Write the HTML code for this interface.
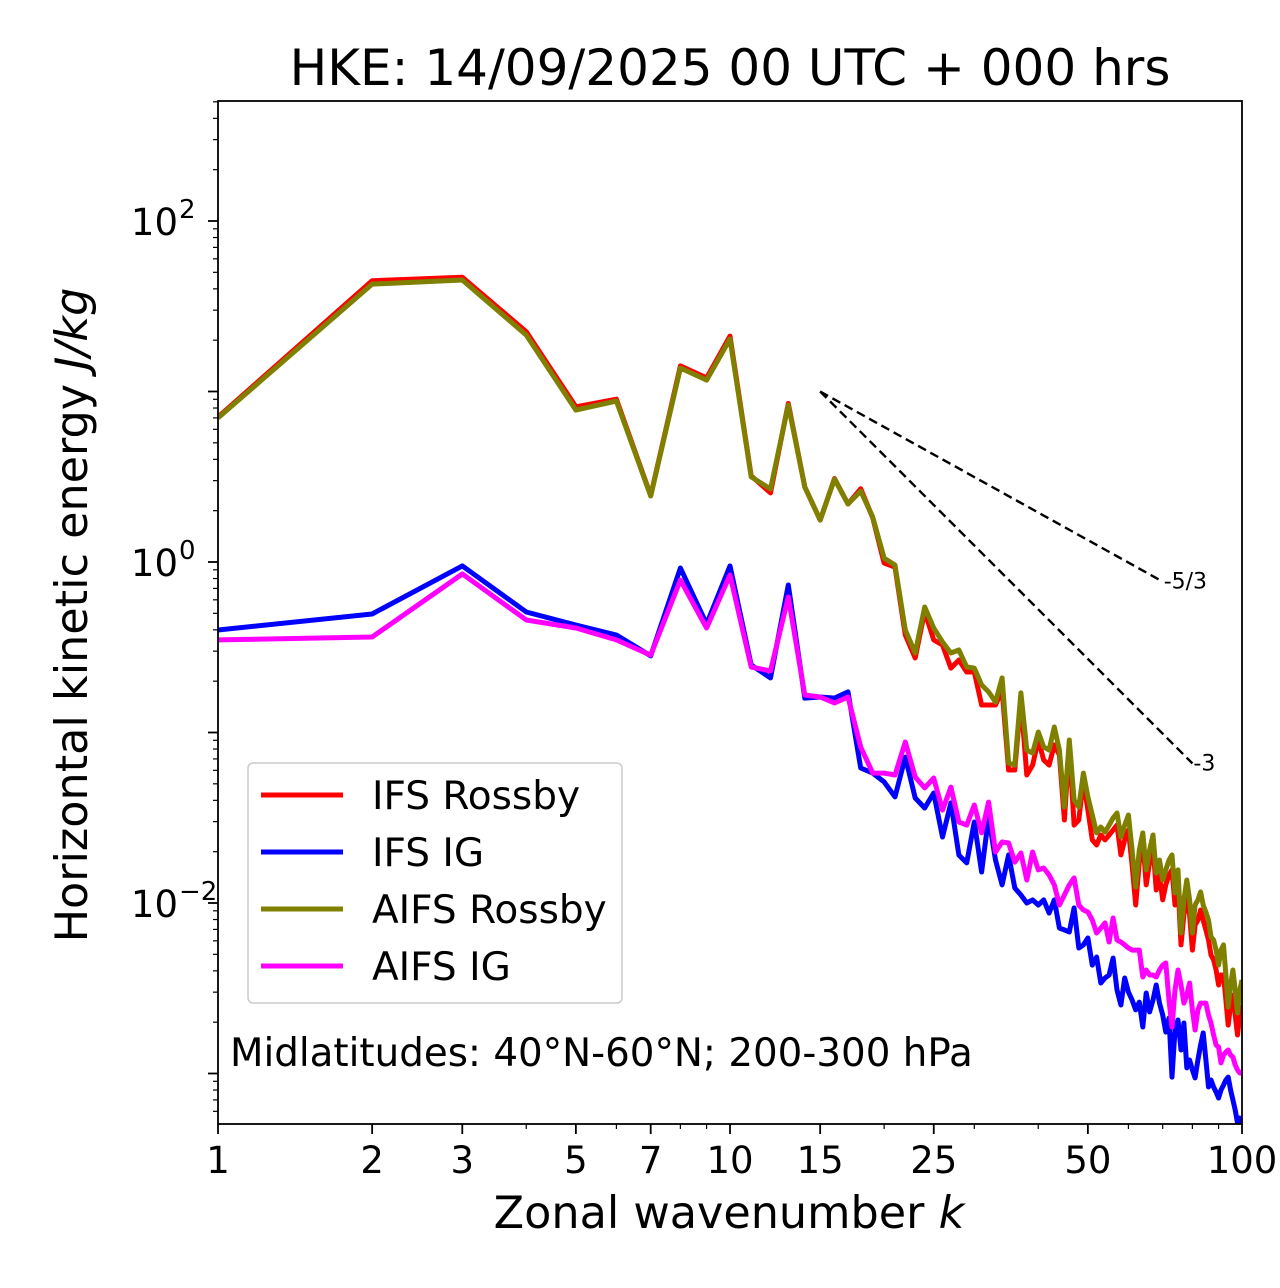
<!DOCTYPE html>
<html><head><meta charset="utf-8"><style>
html,body{margin:0;padding:0;background:#fff;}
svg{display:block;font-family:"DejaVu Sans","Liberation Sans",sans-serif;}
</style></head><body>
<svg id="chart" width="1280" height="1288" viewBox="0 0 1280 1288" xmlns="http://www.w3.org/2000/svg">
<rect width="1280" height="1288" fill="#fff"/>
<text x="730" y="85" font-size="50" text-anchor="middle">HKE: 14/09/2025 00 UTC + 000 hrs</text>
<g id="plot"></g>
<text x="729" y="1228" font-size="44.5" text-anchor="middle">Zonal wavenumber <tspan font-style="italic">k</tspan></text>
<text transform="translate(87,615) rotate(-90)" font-size="44.5" text-anchor="middle">Horizontal kinetic energy <tspan font-style="italic">J/kg</tspan></text>
</svg>
<script>
// log10 of energy (J/kg) for wavenumbers k = 1..100
const wavenumbers = Array.from({length:100},(_,i)=>i+1);
const ifsRossbyLogE = [0.85,1.65,1.67,1.35,0.91,0.955,0.39,1.15,1.08,1.325,0.505,0.405,0.93,0.44,0.246,0.49,0.34,0.43,0.26,-0.006,-0.03,-0.428,-0.563,-0.29,-0.457,-0.487,-0.622,-0.575,-0.645,-0.645,-0.839,-0.839,-0.839,-0.751,-1.22,-1.22,-0.809,-1.249,-1.191,-1.044,-1.161,-1.191,-1.073,-1.132,-1.513,-1.073,-1.543,-1.513,-1.279,-1.455,-1.63,-1.66,-1.601,-1.63,-1.601,-1.572,-1.543,-1.718,-1.63,-1.572,-1.777,-2.012,-1.76,-1.63,-1.894,-1.76,-1.66,-1.924,-1.836,-1.982,-1.894,-1.836,-1.806,-2.012,-1.894,-2.246,-2.07,-1.953,-2.07,-2.276,-2.129,-2.1,-2.041,-2.1,-2.158,-2.217,-2.305,-2.334,-2.393,-2.481,-2.422,-2.422,-2.569,-2.716,-2.598,-2.54,-2.657,-2.774,-2.657,-2.598];
const ifsIgLogE = [-0.399,-0.305,-0.023,-0.293,-0.37,-0.428,-0.551,-0.035,-0.364,-0.023,-0.604,-0.68,-0.135,-0.798,-0.792,-0.798,-0.762,-1.208,-1.238,-1.29,-1.378,-1.144,-1.384,-1.443,-1.355,-1.613,-1.413,-1.719,-1.765,-1.525,-1.818,-1.496,-1.748,-1.894,-1.718,-1.912,-1.953,-2.0,-1.982,-2.012,-1.982,-2.059,-1.982,-2.147,-2.158,-2.17,-2.029,-2.264,-2.246,-2.205,-2.364,-2.317,-2.469,-2.44,-2.422,-2.323,-2.51,-2.598,-2.44,-2.522,-2.569,-2.627,-2.581,-2.727,-2.528,-2.639,-2.569,-2.481,-2.587,-2.657,-2.757,-2.675,-3.021,-2.745,-2.686,-2.862,-2.704,-2.967,-2.921,-2.979,-3.026,-2.921,-2.833,-2.762,-2.921,-3.079,-3.038,-3.079,-3.109,-3.144,-3.097,-3.068,-3.038,-3.021,-3.097,-3.155,-3.214,-3.29,-3.261,-3.296];
const aifsRossbyLogE = [0.845,1.63,1.654,1.331,0.891,0.944,0.387,1.138,1.067,1.308,0.499,0.428,0.921,0.44,0.246,0.487,0.34,0.416,0.264,0.023,-0.018,-0.399,-0.534,-0.264,-0.387,-0.469,-0.534,-0.516,-0.616,-0.622,-0.721,-0.762,-0.821,-0.68,-1.179,-1.191,-0.768,-1.103,-1.12,-0.997,-1.085,-1.103,-0.968,-1.103,-1.437,-1.044,-1.396,-1.437,-1.238,-1.378,-1.484,-1.589,-1.554,-1.584,-1.543,-1.501,-1.472,-1.613,-1.543,-1.484,-1.689,-1.906,-1.689,-1.589,-1.806,-1.689,-1.601,-1.824,-1.748,-1.865,-1.806,-1.748,-1.718,-1.941,-1.806,-2.176,-1.982,-1.865,-1.982,-2.176,-2.012,-1.982,-1.935,-2.012,-2.053,-2.1,-2.199,-2.217,-2.276,-2.364,-2.276,-2.246,-2.422,-2.61,-2.481,-2.393,-2.51,-2.645,-2.51,-2.452];
const aifsIgLogE = [-0.457,-0.44,-0.07,-0.34,-0.387,-0.457,-0.546,-0.106,-0.387,-0.076,-0.616,-0.639,-0.205,-0.78,-0.792,-0.827,-0.792,-1.085,-1.238,-1.238,-1.249,-1.056,-1.261,-1.325,-1.267,-1.455,-1.32,-1.525,-1.543,-1.425,-1.589,-1.408,-1.701,-1.642,-1.648,-1.76,-1.707,-1.865,-1.701,-1.806,-1.795,-1.836,-1.894,-2.012,-1.953,-1.894,-1.853,-2.012,-2.041,-2.053,-2.1,-2.176,-2.147,-2.117,-2.229,-2.088,-2.217,-2.229,-2.246,-2.264,-2.276,-2.276,-2.276,-2.434,-2.393,-2.422,-2.422,-2.434,-2.393,-2.364,-2.352,-2.569,-2.727,-2.51,-2.393,-2.481,-2.587,-2.54,-2.469,-2.627,-2.745,-2.627,-2.587,-2.587,-2.587,-2.657,-2.704,-2.774,-2.833,-2.845,-2.938,-2.892,-2.874,-2.862,-2.892,-2.903,-2.95,-2.979,-2.997,-2.997];
const xTickValues = [1,2,3,5,7,10,15,25,50,100];
const xTickLabels = ["1","2","3","5","7","10","15","25","50","100"];
const yTickExps = [2,0,-2];
const refAnchorK = 15, refAnchorLogE = 1.0;
const refSlopes = [-5/3,-3];
const refEndK = [70,80];
const refLabels = ["-5/3","-3"];

const X0=218,X1=1242,Y0=101,Y1=1124;
const yTop = 2 + (221-101)/170.5, yBot = -2 - (1124-903)/170.5;
const xs = k => X0 + (X1-X0)*Math.log10(k)/2;
const ys = L => Y0 + (Y1-Y0)*(yTop-L)/(yTop-yBot);
const NS="http://www.w3.org/2000/svg";
const plot=document.getElementById('plot');
function mk(tag,attrs,parent){const e=document.createElementNS(NS,tag);for(const a in attrs)e.setAttribute(a,attrs[a]);(parent||plot).appendChild(e);return e;}

// ticks
const ticks=mk('g',{});


for(let d=-4;d<=3;d++){
  for(let m=1;m<10;m++){
    const L=d+Math.log10(m); if(L<yBot||L>yTop) continue;
    const y=ys(L); const len=m===1?10:5;
    mk('line',{x1:X0-len,x2:X0,y1:y,y2:y,stroke:'#000','stroke-width':m===1?1.8:1.2},ticks);
  }
}
for(let d=0;d<2;d++){
  for(let m=1;m<10;m++){
    const k=m*Math.pow(10,d); const x=xs(k);
    mk('line',{x1:x,x2:x,y1:Y1,y2:Y1+(m===1?10:5),stroke:'#000','stroke-width':m===1?1.8:1.2},ticks);
  }
}
mk('line',{x1:xs(100),x2:xs(100),y1:Y1,y2:Y1+10,stroke:'#000','stroke-width':1.8},ticks);
xTickValues.forEach((v,i)=>{
  const x=xs(v);
  if(![1,10,100].includes(v)) mk('line',{x1:x,x2:x,y1:Y1,y2:Y1+10,stroke:'#000','stroke-width':1.8},ticks);
  const t=mk('text',{x:x,y:1173,'font-size':37,'text-anchor':'middle'});
  
  
  t.textContent=xTickLabels[i];
});
yTickExps.forEach(e=>{
  const y=ys(e);
  const t=mk('text',{x:178,y:y+14,'font-size':37,'text-anchor':'end'});
  
  
  t.textContent='10';
  const s=mk('text',{x:179,y:y-3,'font-size':26,'text-anchor':'start'});
  
  
  s.textContent=e<0?('\u2212'+(-e)):String(e);
});

// reference slopes
refSlopes.forEach((s,i)=>{
  const x1=xs(refAnchorK),y1=ys(refAnchorLogE);
  const L2=refAnchorLogE+s*Math.log10(refEndK[i]/refAnchorK);
  const ln=mk('line',{x1:x1,y1:y1,x2:xs(refEndK[i]),y2:ys(L2),stroke:'#000','stroke-width':2.4,'stroke-dasharray':'9,5'});
  
  
  const t=mk('text',{x:xs(refEndK[i])+1,y:ys(L2)+7,'font-size':22});
  
  
  t.textContent=refLabels[i];
});

// series
const cp=mk('clipPath',{id:'clip'});
mk('rect',{x:X0,y:Y0,width:X1-X0,height:Y1-Y0},cp);
const series=[[ifsRossbyLogE,'#ff0000','ifs-rossby-line'],[ifsIgLogE,'#0000ff','ifs-ig-line'],[aifsRossbyLogE,'#808000','aifs-rossby-line'],[aifsIgLogE,'#ff00ff','aifs-ig-line']];
series.forEach(([arr,col,name])=>{
  const d=arr.map((v,i)=>(i?'L':'M')+xs(wavenumbers[i]).toFixed(1)+','+ys(v).toFixed(1)).join('');
  const p=mk('path',{d:d,fill:'none',stroke:col,'stroke-width':5,'stroke-linejoin':'round','clip-path':'url(#clip)'});
  
  
});

// frame
const fr=mk('rect',{x:X0,y:Y0,width:X1-X0,height:Y1-Y0,fill:'none',stroke:'#000','stroke-width':1.8});



// legend
const lg=mk('g',{});


mk('rect',{x:248,y:763,width:374,height:240,rx:5,fill:'#fff','fill-opacity':0.8,stroke:'#ccc','stroke-width':1.5},lg);
const legNames=['IFS Rossby','IFS IG','AIFS Rossby','AIFS IG'];
const legCols=['#ff0000','#0000ff','#808000','#ff00ff'];
legNames.forEach((n,i)=>{
  const y=795+i*57;
  const e=mk('g',{},lg);
  
  
  mk('line',{x1:261,x2:343,y1:y,y2:y,stroke:legCols[i],'stroke-width':5},e);
  const t=mk('text',{x:372,y:y+14,'font-size':39},e);
  t.textContent=n;
});
const an=mk('text',{x:230,y:1066,'font-size':38.8});


an.textContent='Midlatitudes: 40\u00b0N-60\u00b0N; 200-300 hPa';
</script>
</body></html>
